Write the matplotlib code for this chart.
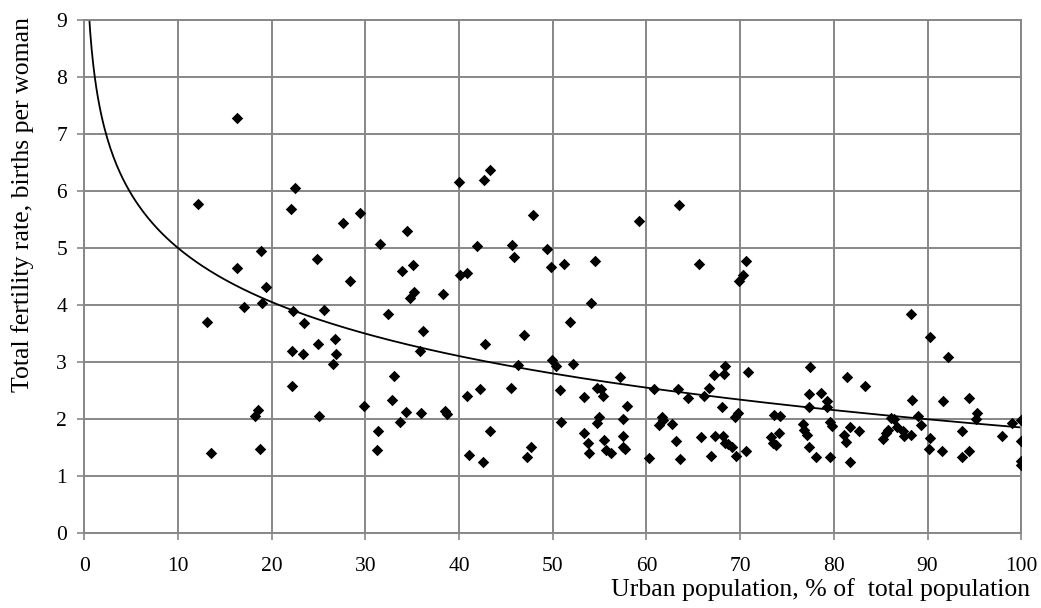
import numpy as np
import matplotlib
matplotlib.use("Agg")
import matplotlib.pyplot as plt

# Urban population (% of total) and total fertility rate, one entry per country
urban_pct = [
    12.1, 13.1, 13.5, 16.3, 16.3, 17.0, 18.2, 18.5, 18.7, 18.9, 19.0, 19.4,
    22.1, 22.2, 22.2, 22.3, 22.5, 23.3, 23.4, 24.8, 24.9, 25.1, 25.6, 26.5,
    26.9, 26.8, 27.6, 28.4, 29.4, 29.8, 31.2, 31.3, 31.6, 32.4, 32.8, 33.1,
    33.7, 33.9, 34.4, 34.3, 34.8, 35.1, 35.2, 35.8, 35.9, 36.1, 38.3, 38.5,
    38.7, 40.0, 40.1, 40.8, 40.8, 41.1, 41.9, 42.2, 42.5, 42.7, 42.8, 43.3,
    43.3, 45.5, 45.7, 45.9, 46.3, 46.9, 47.2, 47.7, 47.9, 49.4, 49.8, 49.9,
    50.3, 50.8, 50.9, 51.2, 51.8, 52.2, 53.3, 53.3, 53.8, 53.9, 54.1, 54.7,
    54.7, 54.5, 54.9, 55.2, 55.4, 55.5, 55.7, 56.2, 57.2, 57.5, 57.5, 57.5,
    57.7, 57.9, 59.2, 60.3, 60.8, 61.3, 61.7, 61.8, 62.7, 63.2, 63.4, 63.5,
    63.6, 64.4, 65.6, 65.8, 66.1, 66.7, 66.9, 67.3, 67.2, 68.1, 68.3, 68.4,
    68.2, 68.4, 68.7, 69.1, 69.6, 69.5, 69.8, 69.9, 70.3, 70.6, 70.6, 70.8,
    73.3, 73.6, 73.5, 73.8, 74.1, 74.3, 76.7, 76.8, 77.1, 77.3, 77.4, 77.4,
    77.5, 78.1, 78.6, 79.3, 79.3, 79.6, 79.6, 79.8, 81.1, 81.3, 81.4, 81.7,
    81.7, 82.7, 83.3, 85.3, 85.6, 85.8, 86.1, 86.4, 86.7, 87.4, 87.5, 88.2,
    88.3, 88.2, 89.0, 89.3, 90.3, 90.3, 90.2, 91.5, 91.6, 92.2, 93.7, 93.7,
    94.4, 94.4, 95.2, 95.3, 97.9, 99.0, 100.0, 100.0, 100.0, 100.0,
]
fertility = [
    5.78, 3.70, 1.40, 7.28, 4.65, 3.97, 2.06, 2.16, 1.47, 4.94, 4.03, 4.32,
    5.68, 3.19, 2.58, 3.90, 6.05, 3.14, 3.68, 4.80, 3.31, 2.06, 3.91, 2.97,
    3.14, 3.41, 5.44, 4.42, 5.62, 2.23, 1.46, 1.79, 5.07, 3.84, 2.34, 2.75,
    1.95, 4.60, 5.30, 2.13, 4.12, 4.70, 4.23, 3.19, 2.11, 3.55, 4.20, 2.14,
    2.09, 6.15, 4.52, 4.56, 2.41, 1.36, 5.04, 2.53, 1.24, 6.20, 3.31, 6.36,
    1.79, 2.55, 5.05, 4.84, 2.95, 3.47, 1.34, 1.50, 5.58, 4.98, 4.66, 3.03,
    2.93, 2.50, 1.95, 4.72, 3.70, 2.96, 2.39, 1.76, 1.58, 1.41, 4.03, 1.93,
    2.55, 4.78, 2.04, 2.52, 2.40, 1.63, 1.45, 1.40, 2.73, 2.00, 1.70, 1.50,
    1.47, 2.22, 5.48, 1.32, 2.52, 1.89, 2.03, 1.99, 1.92, 1.62, 2.53, 5.76,
    1.30, 2.37, 4.72, 1.69, 2.40, 2.55, 1.35, 1.70, 2.77, 2.21, 2.79, 2.93,
    1.70, 1.58, 1.56, 1.51, 1.35, 2.04, 2.10, 4.42, 4.52, 1.44, 4.77, 2.83,
    1.69, 2.07, 1.58, 1.54, 1.76, 2.05, 1.91, 1.81, 1.72, 1.50, 2.21, 2.43,
    2.91, 1.34, 2.45, 2.32, 2.21, 1.95, 1.34, 1.88, 1.72, 1.59, 2.73, 1.85,
    1.24, 1.79, 2.58, 1.65, 1.75, 1.81, 2.02, 2.00, 1.86, 1.78, 1.70, 1.72,
    2.34, 3.84, 2.05, 1.89, 3.43, 1.67, 1.47, 1.44, 2.31, 3.08, 1.79, 1.34,
    2.37, 1.44, 2.00, 2.11, 1.70, 1.93, 1.99, 1.62, 1.26, 1.20,
]

# logarithmic trend line: y = trend_a - trend_b * ln(x)
trend_a = 8.15
trend_b = 1.368
trend_x_start = 0.45

x_ticks = list(range(0, 101, 10))
y_ticks = list(range(0, 10))

GRID = "#878787"
FONT = "Liberation Serif"

fig = plt.figure(figsize=(10.41, 6.08), dpi=100)
ax = fig.add_axes([0.081, 0.1235, 0.9, 0.8435])

ax.set_xlim(0, 100)
ax.set_ylim(0, 9)
ax.set_xticks(x_ticks)
ax.set_yticks(y_ticks)
ax.grid(True, color=GRID, linewidth=1.4)
ax.set_axisbelow(True)
for side in ("left", "bottom", "top", "right"):
    ax.spines[side].set_color(GRID)
    ax.spines[side].set_linewidth(1.4)
ax.tick_params(direction="out", length=5, width=1.2, color=GRID,
               labelsize=15.5)
ax.tick_params(axis="x", pad=12)
ax.tick_params(axis="y", pad=7.5)
for lab in ax.get_xticklabels() + ax.get_yticklabels():
    lab.set_fontfamily(FONT)

xs = np.linspace(trend_x_start, 100, 600)
ax.plot(xs, trend_a - trend_b * np.log(xs), color="black", linewidth=1.3,
        zorder=2)
ax.scatter(urban_pct, fertility, marker="D", s=34, color="black",
           linewidths=0, zorder=3)

ax.set_ylabel("Total fertility rate, births per woman", fontsize=18.5,
              fontfamily=FONT, va="center", ha="center")
ax.yaxis.set_label_coords(-0.066, 0.64)
ax.set_xlabel("Urban population, % of  total population", fontsize=18.5,
              fontfamily=FONT, ha="right", va="center")
ax.xaxis.set_label_coords(1.0096, -0.111)

fig.savefig("out.png", dpi=100)
